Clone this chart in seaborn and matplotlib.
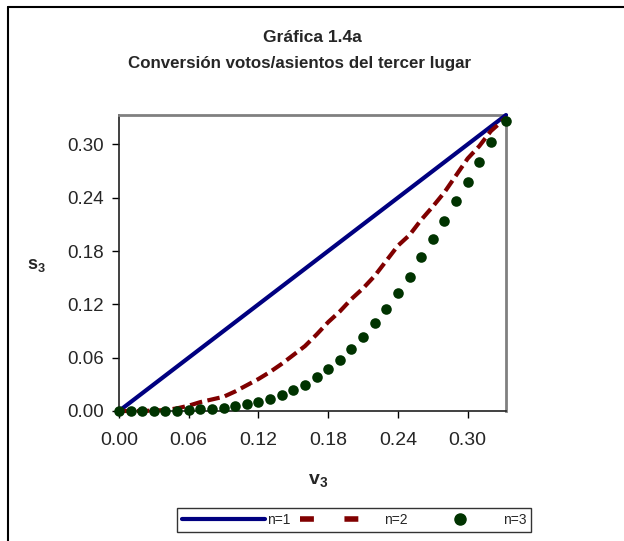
import numpy as np
import pandas as pd
import matplotlib
matplotlib.use("Agg")
import matplotlib.pyplot as plt
from matplotlib.lines import Line2D
import seaborn as sns

# ---- data ----
v3 = [0.00, 0.01, 0.02, 0.03, 0.04, 0.05, 0.06, 0.07, 0.08, 0.09,
      0.10, 0.11, 0.12, 0.13, 0.14, 0.15, 0.16, 0.17, 0.18, 0.19,
      0.20, 0.21, 0.22, 0.23, 0.24, 0.25, 0.26, 0.27, 0.28, 0.29,
      0.30, 0.31, 0.32, 0.333]
s_n1 = [0.00, 0.01, 0.02, 0.03, 0.04, 0.05, 0.06, 0.07, 0.08, 0.09,
        0.10, 0.11, 0.12, 0.13, 0.14, 0.15, 0.16, 0.17, 0.18, 0.19,
        0.20, 0.21, 0.22, 0.23, 0.24, 0.25, 0.26, 0.27, 0.28, 0.29,
        0.30, 0.31, 0.32, 0.333]
s_n2 = [0.000, 0.000, 0.000, 0.0005, 0.001, 0.003, 0.006, 0.010, 0.013, 0.016,
        0.022, 0.029, 0.036, 0.044, 0.053, 0.063, 0.073, 0.086, 0.100, 0.112,
        0.126, 0.138, 0.152, 0.169, 0.186, 0.198, 0.215, 0.230, 0.246, 0.265,
        0.284, 0.298, 0.315, 0.330]
s_n3 = [0.000, 0.000, 0.000, 0.000, 0.000, 0.000, 0.0007, 0.002, 0.0026, 0.0037,
        0.0056, 0.0078, 0.0104, 0.0133, 0.0185, 0.0233, 0.0296, 0.0378, 0.047, 0.057,
        0.070, 0.083, 0.099, 0.115, 0.133, 0.151, 0.173, 0.193, 0.214, 0.236,
        0.258, 0.280, 0.303, 0.326]
yticks = [0.00, 0.06, 0.12, 0.18, 0.24, 0.30]
xticks = [0.00, 0.06, 0.12, 0.18, 0.24, 0.30]
series_labels = ["n=1", "n=2", "n=3"]

df = pd.DataFrame({"v3": v3, "n1": s_n1, "n2": s_n2, "n3": s_n3})

sns.set_theme(style="white")
plt.rcParams["font.family"] = ["Liberation Sans", "DejaVu Sans"]
plt.rcParams["mathtext.fontset"] = "custom"
plt.rcParams["mathtext.rm"] = "Liberation Sans"
plt.rcParams["mathtext.bf"] = "Liberation Sans:bold"

fig = plt.figure(figsize=(6.24, 5.41), dpi=100)
fig.patch.set_facecolor("white")
ax = fig.add_axes([0.1907, 0.2403, 0.6202, 0.5471])

blue = "#000080"
red = "#800000"
green = "#003300"

sns.lineplot(data=df, x="v3", y="n1", ax=ax, color=blue, linewidth=3.0,
             label=series_labels[0], legend=False, clip_on=False, zorder=3)
sns.lineplot(data=df, x="v3", y="n2", ax=ax, color=red, linewidth=3.0,
             label=series_labels[1], legend=False, clip_on=False, zorder=3)
ax.lines[-1].set_dashes([3.0, 1.3])
sns.scatterplot(data=df, x="v3", y="n3", ax=ax, color=green, s=58,
                edgecolor=green, linewidth=0, label=series_labels[2],
                legend=False, clip_on=False, zorder=4)

ax.set_xlim(0, 0.333)
ax.set_ylim(0, 0.333)
ax.set_xticks(xticks)
ax.set_yticks(yticks)
ax.set_xticklabels([f"{t:.2f}" for t in xticks], fontsize=14)
ax.set_yticklabels([f"{t:.2f}" for t in yticks], fontsize=13.5)
ax.tick_params(axis="both", direction="out", length=5, width=1, color="black",
               left=True, bottom=True, pad=6)
ax.tick_params(axis="x", pad=10)

for side in ["top", "right"]:
    ax.spines[side].set_color("#808080")
    ax.spines[side].set_linewidth(2)
for side in ["left", "bottom"]:
    ax.spines[side].set_color("#202020")
    ax.spines[side].set_linewidth(1.2)
ax.grid(False)

ax.set_xlabel("")
ax.set_ylabel("")
fig.text(318 / 624, 1 - 481 / 541, r"$\mathbf{v}_\mathbf{3}$", fontsize=14,
         ha="center", va="center")
fig.text(36 / 624, 1 - 266 / 541, r"$\mathbf{s}_\mathbf{3}$", fontsize=13,
         ha="center", va="center")

fig.text(312 / 624, 1 - 37 / 541, "Gráfica 1.4a", fontsize=12.5, fontweight="bold",
         ha="center", va="center")
fig.text(300 / 624, 1 - 64 / 541, "Conversión votos/asientos del tercer lugar",
         fontsize=12.2, fontweight="bold", ha="center", va="center")

# legend
h1 = Line2D([], [], color=blue, linewidth=3.0)
h2 = Line2D([], [], color=red, linewidth=4.0, dashes=[2.5, 5.5])
h3 = Line2D([], [], color=green, linestyle="none", marker="o", markersize=8)
leg = fig.legend([h1, h2, h3], series_labels, loc="center",
                 bbox_to_anchor=(354 / 624, 1 - 520 / 541), ncol=3,
                 fontsize=10, frameon=True, fancybox=False, handlelength=6.0,
                 handletextpad=0.1, columnspacing=0.7, borderpad=0.35,
                 borderaxespad=0)
leg.get_frame().set_edgecolor("black")
leg.get_frame().set_linewidth(1.0)

# outer chart border (left and top visible)
fig.add_artist(Line2D([8 / 624, 8 / 624], [0, 1 - 7 / 541], color="black",
                      linewidth=1.5, transform=fig.transFigure))
fig.add_artist(Line2D([8 / 624, 1], [1 - 7 / 541, 1 - 7 / 541], color="black",
                      linewidth=1.5, transform=fig.transFigure))

fig.savefig("out.png", dpi=100, facecolor="white")
